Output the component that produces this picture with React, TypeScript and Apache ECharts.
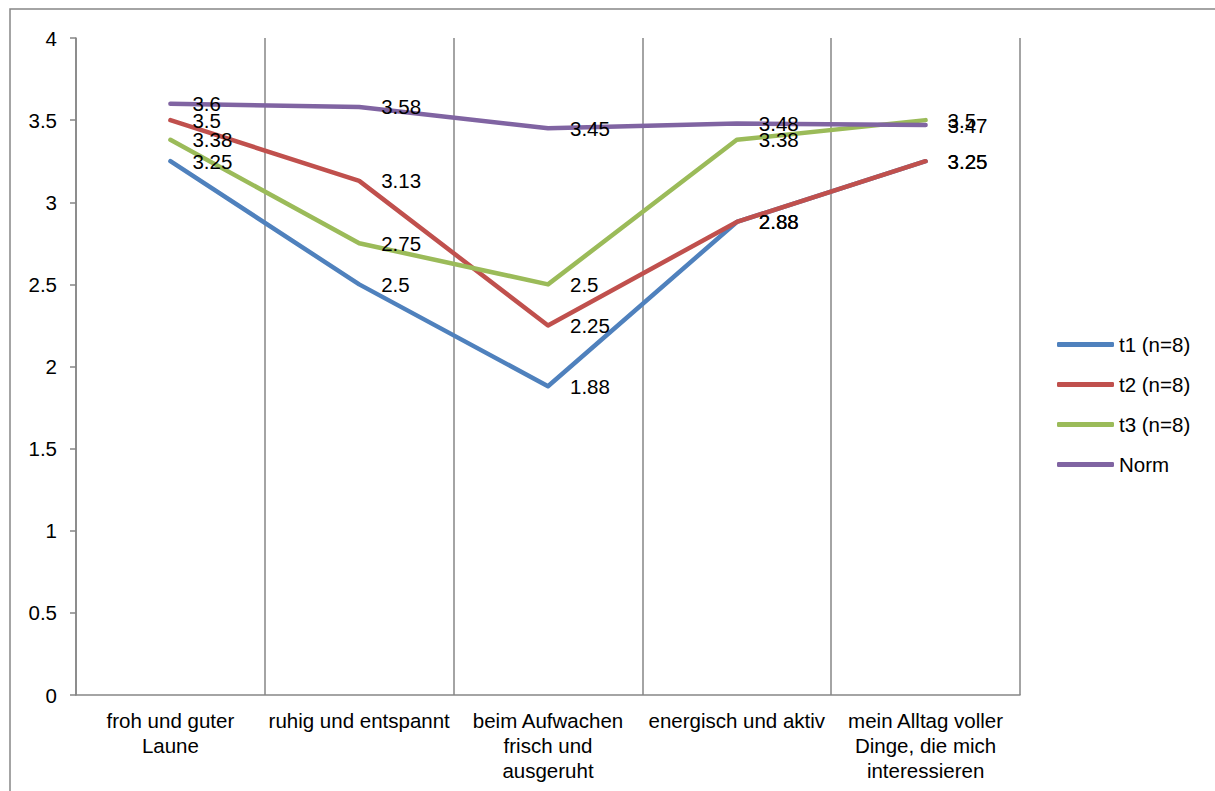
import React, { useEffect, useRef } from "react";
import * as echarts from "echarts";

const categories = [
  "froh und guter\nLaune",
  "ruhig und entspannt",
  "beim Aufwachen\nfrisch und\nausgeruht",
  "energisch und aktiv",
  "mein Alltag voller\nDinge, die mich\ninteressieren",
];
const t1 = [3.25, 2.5, 1.88, 2.88, 3.25];
const t2 = [3.5, 3.13, 2.25, 2.88, 3.25];
const t3 = [3.38, 2.75, 2.5, 3.38, 3.5];
const norm = [3.6, 3.58, 3.45, 3.48, 3.47];

const seriesNames = ["t1 (n=8)", "t2 (n=8)", "t3 (n=8)", "Norm"];
const seriesColors = ["#4F81BD", "#C0504D", "#9BBB59", "#8064A2"];
const seriesData = [t1, t2, t3, norm];

const FONT = "'Liberation Sans', Arial, sans-serif";
const GREY = "#868686";
const FS = 20.5;

export default function App() {
  const ref = useRef<HTMLDivElement>(null);

  useEffect(() => {
    if (!ref.current) return;
    const chart = echarts.init(ref.current, undefined, { renderer: "svg" });
    chart.setOption({
      animation: false,
      backgroundColor: "#ffffff",
      textStyle: { fontFamily: FONT },
      graphic: [
        {
          type: "rect",
          shape: { x: 10, y: 9, width: 1400, height: 1000 },
          style: { fill: "none", stroke: GREY, lineWidth: 1.5 },
          silent: true,
        },
      ],
      grid: { left: 76, top: 38, right: 195, bottom: 96, containLabel: false },
      legend: {
        orient: "vertical",
        left: 1052,
        top: 329,
        icon: "roundRect",
        itemWidth: 57,
        itemHeight: 5,
        itemGap: 19,
        textStyle: { fontSize: FS, color: "#000", fontFamily: FONT },
        data: seriesNames,
      },
      xAxis: {
        type: "category",
        data: categories,
        boundaryGap: true,
        axisLine: { lineStyle: { color: GREY, width: 1.5 } },
        axisTick: { show: false },
        splitLine: { show: true, lineStyle: { color: GREY, width: 1.5 } },
        axisLabel: {
          interval: 0,
          fontSize: FS,
          color: "#000",
          lineHeight: 25,
          margin: 13,
          fontFamily: FONT,
        },
      },
      yAxis: {
        type: "value",
        min: 0,
        max: 4,
        interval: 0.5,
        axisLine: { show: true, lineStyle: { color: GREY, width: 1.5 } },
        axisTick: { show: true, length: 6, lineStyle: { color: GREY, width: 1.5 } },
        splitLine: { show: false },
        axisLabel: { fontSize: FS, color: "#000", margin: 19, fontFamily: FONT },
      },
      series: seriesNames.map((name, i) => ({
        name,
        type: "line",
        data: seriesData[i],
        color: seriesColors[i],
        symbol: "circle",
        symbolSize: 0,
        showSymbol: true,
        lineStyle: { width: 4.5, color: seriesColors[i], cap: "round", join: "round" },
        itemStyle: { color: seriesColors[i] },
        label: {
          show: true,
          position: "right",
          distance: 22,
          fontSize: FS,
          color: "#000",
          fontFamily: FONT,
        },
      })),
    });
    return () => chart.dispose();
  }, []);

  return (
    <div
      ref={ref}
      style={{ position: "fixed", left: 0, top: 0, width: 1215, height: 791 }}
    />
  );
}
